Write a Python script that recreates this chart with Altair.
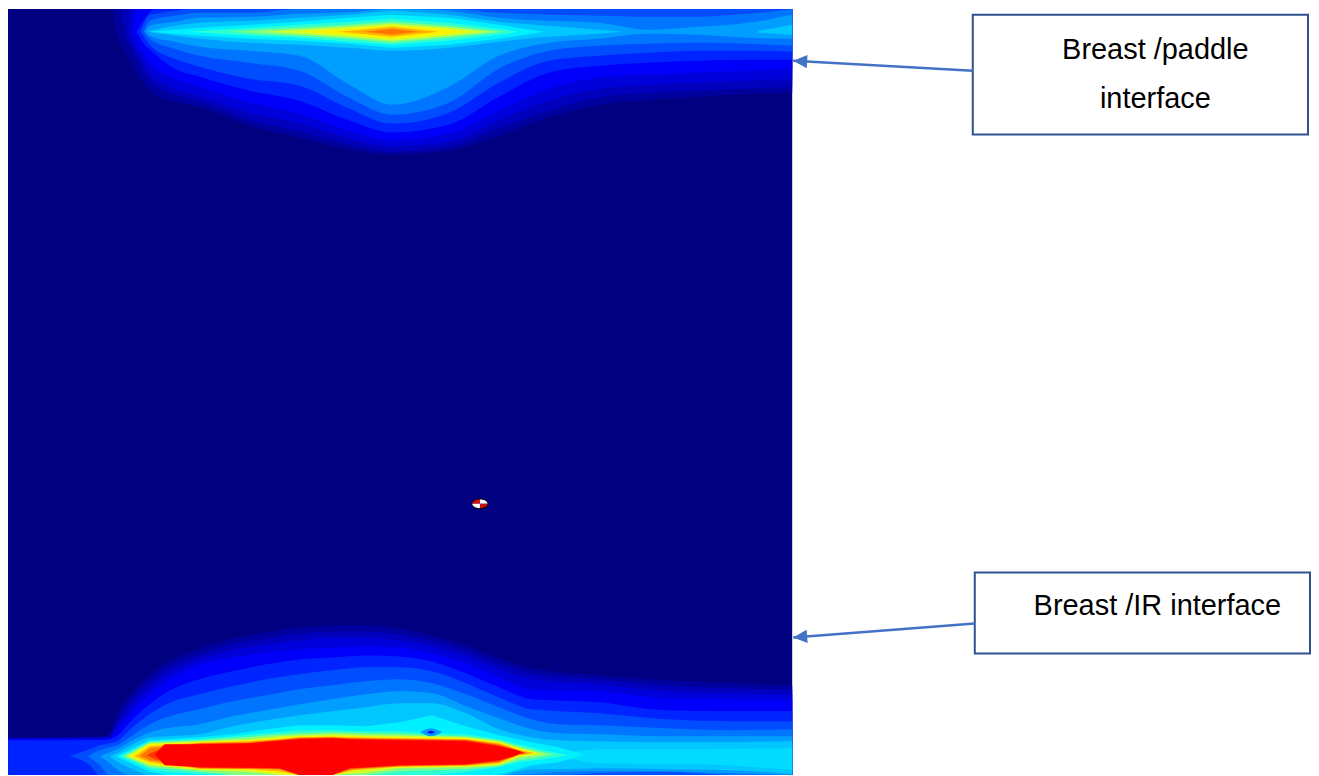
import altair as alt
import pandas as pd

# ---------------------------------------------------------------
# Values, in image-grid units
# (x: lateral position, y: depth, both on the same grid as the
# annotation boxes).  Each contour level is a list of
# (x, upper boundary, lower boundary).
# ---------------------------------------------------------------
FIELD_X = [8, 794]
FIELD_Y = [8, 776]

# ---- upper hot band (breast / paddle interface) ----
TOP_L03 = [(113,8,8),(117,8,31),(125,8,50),(140,8,77),(150,8,90),(175,8,101),(200,8,106),(250,8,125),(300,8,137),(350,8,149),(393,8,154),(450,8,150),(500,8,135),(550,8,117),(600,8,104),(650,8,99),(700,8,96),(750,8,93),(794,8,92)]
TOP_L06 = [(122,8,8),(125,8,30),(132,8,46),(140,8,62),(150,8,80),(175,8,94),(200,8,101),(250,8,119),(300,8,131),(350,8,144),(393,8,151),(450,8,146),(500,8,128),(550,8,110),(600,8,97),(650,8,92),(700,8,90),(750,8,88),(794,8,86)]
TOP_L09 = [(129,30,32),(131,8,38),(140,8,55),(150,8,72),(175,8,88),(200,8,95),(250,8,112),(300,8,123),(350,8,138),(393,8,146),(450,8,141),(500,8,120),(550,8,100),(600,8,88),(650,8,84),(700,8,82),(750,8,80),(794,8,78)]
TOP_L12 = [(133,30,32),(138,8,40),(140,8,45),(150,8,62),(175,8,78),(200,8,86),(250,8,102),(300,8,113),(350,8,130),(393,8,140),(450,8,133),(500,8,110),(550,8,88),(600,8,77),(650,8,74),(700,8,72),(750,8,70),(794,8,68)]
TOP_L16 = [(137,31,31),(145,18,44),(155,8,53),(175,8,68),(200,8,76),(250,8,90),(300,8,100),(350,8,120),(393,8,132),(450,8,124),(500,8,96),(550,8,72),(600,8,65),(650,8,62),(700,8,60),(750,8,59),(794,8,59)]
TOP_L20 = [(141,31,31),(150,14,44),(175,10,58),(190,8,63),(250,8,78),(300,8,85),(350,8,108),(393,8,123),(450,8,112),(500,8,82),(550,8,60),(600,8,55),(650,8,52),(700,8,50),(750,8,50),(794,8,51)]
TOP_L24 = [(144,31,31),(150,20,38),(175,15,48),(200,12,55),(250,12,62),(300,8,70),(350,8,97),(393,8,114),(450,8,102),(500,12,68),(550,14,50),(600,15,45),(650,16,43),(700,16,42),(750,13,43),(794,8,45)]
TOP_L28 = [(146,31,31),(150,25,35),(175,21,41),(200,17,46),(250,16,50),(300,13,55),(350,11,84),(393,8,104),(450,10,86),(500,17,55),(550,20,42),(600,22,38),(650,29,33),(700,26,34),(750,22,37),(794,14,38)]
TOP_L32 = [(148,31,31),(175,25,35),(200,22,38),(250,20,42),(300,17,44),(350,14,47),(393,10,50),(450,14,47),(500,21,41),(550,25,36),(600,29,33),(625,31,31)]
TOP_L32_EDGE = [(760,30,32),(794,24,34)]
TOP_L36 = [(150,31,31),(175,29,33),(200,27,35),(250,24,38),(300,21,40),(350,17,43),(393,14,47),(450,17,44),(500,24,38),(545,31,31)]
TOP_L42 = [(190,31,31),(250,27,35),(300,24,37),(350,21,41),(393,18,44),(450,22,40),(500,28,34),(520,31,31)]
TOP_L50 = [(230,31,31),(260,29,33),(300,27,35),(350,24,38),(393,21,42),(450,25,37),(505,31,31)]
TOP_L58 = [(265,31,31),(300,29,33),(350,26,36),(393,23,40),(450,27,35),(490,31,31)]
TOP_L64 = [(300,31,31),(350,28,34),(393,25,38),(440,28,34),(470,31,31)]
TOP_L70 = [(340,31,31),(393,26,36),(440,31,31)]
TOP_L76 = [(365,31,31),(393,28,34),(420,31,31)]

# ---- lower hot band (breast / IR interface) ----
BOT_L03 = [(8,738,776),(100,737,776),(110,734,776),(117,716,776),(133,693,776),(150,676,776),(167,663,776),(200,649,776),(233,639,776),(267,633,776),(300,628,776),(333,626,776),(367,626,776),(400,629,776),(433,636,776),(467,646,776),(500,659,776),(533,669,776),(600,676,776),(667,681,776),(733,684,776),(794,686,776)]
BOT_L06 = [(8,739,776),(100,738,776),(110,736,776),(117,722,776),(133,699,776),(150,682,776),(167,669,776),(200,655,776),(233,645,776),(267,639,776),(300,634,776),(333,632,776),(367,632,776),(400,635,776),(433,641,776),(467,651,776),(500,664,776),(533,674,776),(600,680,776),(667,686,776),(733,689,776),(794,690,776)]
BOT_L09 = [(8,739.5,776),(100,739,776),(110,738,776),(117,727,776),(133,705,776),(150,688,776),(167,675,776),(200,660,776),(233,651,776),(267,645,776),(300,641,776),(333,638,776),(367,638,776),(400,641,776),(433,647,776),(467,657,776),(500,670,776),(533,680,776),(600,685,776),(667,692,776),(733,694,776),(794,695,776)]
BOT_L12 = [(8,740,776),(100,740,776),(110,739,776),(117,732,776),(133,712,776),(150,695,776),(167,682,776),(200,665,776),(233,658,776),(267,653,776),(300,650,776),(333,648,776),(367,647,776),(400,648,776),(433,654,776),(467,664,776),(500,678,776),(533,690,776),(600,692,776),(667,699,776),(733,700,776),(794,701,776)]
BOT_L16 = [(8,741,776),(100,741,776),(110,740,776),(117,737,776),(133,720,776),(150,705,776),(167,693,776),(200,680,776),(233,672,776),(267,665,776),(300,660,776),(333,658,776),(367,656,776),(400,657,776),(433,662,776),(467,674,776),(500,688,776),(533,700,776),(600,703,776),(667,711,776),(733,712,776),(794,712,776)]
BOT_L20 = [(70,757,757),(90,750,766),(100,746,776),(110,744,776),(117,742,776),(133,728,776),(150,715,776),(167,705,776),(200,695,776),(233,687,776),(267,680,776),(300,675,776),(333,671,776),(367,668,776),(400,668,776),(433,672,776),(467,684,776),(500,698,776),(533,710,776),(600,714,776),(667,720,776),(733,722,776),(794,722,776)]
BOT_L24 = [(88,757,757),(100,751,766),(110,748,776),(117,746,776),(133,736,776),(150,725,776),(167,718,776),(200,710,776),(233,702,776),(267,696,776),(300,690,776),(333,686,776),(367,682,776),(400,680,776),(433,684,776),(467,695,776),(500,708,776),(533,720,776),(560,725,776),(600,726,774),(667,729,773),(733,731,776),(794,730,776)]
BOT_L28 = [(100,757,757),(110,753,764),(117,750,770),(133,741,776),(150,733,776),(167,729,776),(200,725,776),(233,717,776),(267,711,776),(300,705,776),(333,700,776),(367,695,776),(400,692,776),(433,694,776),(467,707,776),(500,719,776),(533,730,775),(560,734,773),(600,735,772),(667,737,772),(733,737,774),(794,737,776)]
BOT_L32 = [(110,757,757),(117,754,762),(133,745,770),(150,738,776),(167,737,776),(200,735,776),(233,727,776),(267,721,776),(300,716,776),(333,712,776),(367,708,776),(400,704,776),(433,704,776),(467,714,776),(500,730,776),(533,738,770),(560,741,770),(600,742,769),(667,743,770),(733,743,771),(794,742,775)]
BOT_L34 = [(560,756,756),(600,750,764),(700,750,765),(794,749,771)]
BOT_L36 = [(116,757,757),(150,741,773),(167,740,776),(200,738,776),(233,735,776),(267,730,776),(300,726,776),(333,726,776),(367,727,776),(400,723,776),(433,716,776),(467,727,776),(500,736,776),(533,743,766),(560,748,763),(585,755,756)]
BOT_L42 = [(120,757,757),(150,742,770),(167,741,773),(200,740,775),(233,737,776),(267,734,776),(300,731,776),(333,731,776),(367,732,776),(400,732,776),(433,734,776),(467,735,773),(500,740,768),(520,745,763),(545,751,760),(570,756,756)]
BOT_L50 = [(124,757,757),(150,743,768),(200,741,773),(233,739,776),(267,736,776),(300,734,776),(333,733,776),(367,734,776),(400,734.5,772),(433,736,771),(467,737,770),(500,741,767),(520,747,761),(535,751,759),(555,755,755)]
BOT_L58 = [(127,757,757),(150,744,766),(200,742,771),(250,740,773),(280,737,776),(300,736,776),(333,735,776),(367,736,774),(400,736.5,769),(433,737,768.5),(467,738,768),(500,742,766),(520,748.5,758),(545,755,755)]
BOT_L64 = [(130,757,757),(150,745,765),(200,743,770),(250,741,771),(275,739,774),(300,737,776),(333,736.5,776),(360,737,771),(400,738,768),(433,738.5,767.5),(467,739,767),(500,743,765),(520,749.5,757),(540,754,754)]
BOT_L70 = [(135,757,757),(150,747,763),(200,743.5,769.5),(250,742,770),(278,740,772),(300,738,776),(333,737.5,776),(355,738,771),(400,739,767.5),(467,740,766.5),(500,744,764),(520,750.5,756),(535,754,754)]
BOT_L76 = [(140,757,757),(150,749,761),(200,744,769),(250,743,769.5),(280,740.5,770),(300,738.5,776),(333,738,776),(352,739,770),(400,739.5,767),(467,740.5,766),(500,745,763),(520,751.5,755.5),(530,754,754)]
BOT_L82 = [(147,756,756),(155,752,760),(200,744.5,768.5),(250,744,769),(280,741,769.5),(300,739,776),(333,738.5,776),(351,739.5,769.5),(400,740,766.5),(467,741,765.5),(500,746,762),(520,752,755),(527,754,754)]
BOT_L88 = [(155,755,755),(165,745,766),(200,745,768),(250,744,768.5),(280,741.5,769),(300,740,776),(333,739,776),(350,740,769),(400,741,766),(467,742,765),(500,747,761),(515,750,757),(524,753,753)]
# small local minimum just above the lower band
BOT_DIP_28 = [(421,733,733),(432,729,737),(443,733,733)]
BOT_DIP_12 = [(428,733,733),(432,731.5,734.5),(436,733,733)]

TOP_LEVELS = [(0.03, TOP_L03), (0.06, TOP_L06), (0.09, TOP_L09), (0.12, TOP_L12),
              (0.16, TOP_L16), (0.20, TOP_L20), (0.24, TOP_L24), (0.28, TOP_L28),
              (0.32, TOP_L32), (0.32, TOP_L32_EDGE), (0.36, TOP_L36), (0.42, TOP_L42),
              (0.50, TOP_L50), (0.58, TOP_L58), (0.64, TOP_L64), (0.70, TOP_L70),
              (0.76, TOP_L76)]
BOT_LEVELS = [(0.03, BOT_L03), (0.06, BOT_L06), (0.09, BOT_L09), (0.12, BOT_L12),
              (0.16, BOT_L16), (0.20, BOT_L20), (0.24, BOT_L24), (0.28, BOT_L28),
              (0.32, BOT_L32), (0.34, BOT_L34), (0.36, BOT_L36), (0.42, BOT_L42),
              (0.50, BOT_L50), (0.58, BOT_L58), (0.64, BOT_L64), (0.70, BOT_L70),
              (0.76, BOT_L76), (0.82, BOT_L82), (0.875, BOT_L88),
              (0.28, BOT_DIP_28), (0.12, BOT_DIP_12)]

# marker (small cross-hair target in the middle of the field)
MARKER_X = [481]
MARKER_Y = [504]

# annotations
BOX_X = [975, 977]
BOX_X2 = [1311, 1313]
BOX_Y = [14, 573]
BOX_Y2 = [134, 654]
LABEL_TEXT = ["Breast /paddle", "interface", "Breast /IR interface"]
LABEL_X = [1158, 1158, 1160]
LABEL_Y = [49, 98, 607]
ARROW_FROM_X = [975, 977]
ARROW_FROM_Y = [70, 624]
ARROW_TIP_X = [795, 795]
ARROW_TIP_Y = [60, 638]
ARROW_ANGLE = [3.2, 355.6]

# ---------------------------------------------------------------
JET_DOMAIN = [0, 0.125, 0.375, 0.625, 0.875, 1.0]
JET_RANGE = ["#000080", "#0000ff", "#00ffff", "#ffff00", "#ff0000", "#800000"]

xs = alt.Scale(domain=[8, 1313], nice=False, zero=False)
ys = alt.Scale(domain=[8, 776], nice=False, zero=False, reverse=True)
cs = alt.Scale(domain=JET_DOMAIN, range=JET_RANGE, interpolate="rgb", clamp=True)

W, H = 1305, 768

base_df = pd.DataFrame({"x": [FIELD_X[0]], "x2": [FIELD_X[1]],
                        "y": [FIELD_Y[0]], "y2": [FIELD_Y[1]], "v": [0.0]})
layers = [
    alt.Chart(base_df).mark_rect().encode(
        x=alt.X("x:Q", scale=xs, axis=None), x2="x2:Q",
        y=alt.Y("y:Q", scale=ys, axis=None), y2="y2:Q",
        color=alt.Color("v:Q", scale=cs, legend=None))
]

for v, pts in TOP_LEVELS + BOT_LEVELS:
    df = pd.DataFrame(pts, columns=["x", "u", "d"])
    df["v"] = v
    interp = "monotone" if v < 0.35 else "linear"
    layers.append(
        alt.Chart(df).mark_area(interpolate=interp, orient="vertical",
                                strokeWidth=0).encode(
            x=alt.X("x:Q", scale=xs, axis=None),
            y=alt.Y("u:Q", scale=ys, axis=None), y2="d:Q",
            color=alt.Color("v:Q", scale=cs, legend=None)))

# marker quadrants
mk = pd.DataFrame({"x": MARKER_X, "y": MARKER_Y})
quads = [("M0,0 L-1,0 A1,0.6 0 0,1 0,-0.6 Z", "#d01010"),
         ("M0,0 L0,-0.6 A1,0.6 0 0,1 1,0 Z", "#ffffff"),
         ("M0,0 L1,0 A1,0.6 0 0,1 0,0.6 Z", "#d01010"),
         ("M0,0 L0,0.6 A1,0.6 0 0,1 -1,0 Z", "#ffffff")]
for path, col in quads:
    layers.append(alt.Chart(mk).mark_point(shape=path, filled=True, fill=col,
                                           size=260, opacity=1, strokeWidth=0).encode(
        x=alt.X("x:Q", scale=xs, axis=None), y=alt.Y("y:Q", scale=ys, axis=None)))
layers.append(alt.Chart(mk).mark_point(shape="M-1,0 A1,0.6 0 1,1 1,0 A1,0.6 0 1,1 -1,0 Z",
                                       filled=False, stroke="#000000", strokeWidth=1,
                                       size=260, opacity=1).encode(
    x=alt.X("x:Q", scale=xs, axis=None), y=alt.Y("y:Q", scale=ys, axis=None)))

# annotation boxes
box_df = pd.DataFrame({"x": BOX_X, "x2": BOX_X2, "y": BOX_Y, "y2": BOX_Y2})
layers.append(alt.Chart(box_df).mark_rect(fill="white", stroke="#2F528F",
                                          strokeWidth=2).encode(
    x=alt.X("x:Q", scale=xs, axis=None), x2="x2:Q",
    y=alt.Y("y:Q", scale=ys, axis=None), y2="y2:Q"))

lab_df = pd.DataFrame({"t": LABEL_TEXT, "x": LABEL_X, "y": LABEL_Y})
layers.append(alt.Chart(lab_df).mark_text(font="Liberation Sans", fontSize=29,
                                          color="#000000", align="center",
                                          baseline="middle").encode(
    x=alt.X("x:Q", scale=xs, axis=None), y=alt.Y("y:Q", scale=ys, axis=None),
    text="t:N"))

arr_df = pd.DataFrame({"x": ARROW_FROM_X, "y": ARROW_FROM_Y,
                       "x2": ARROW_TIP_X, "y2": ARROW_TIP_Y, "a": ARROW_ANGLE})
layers.append(alt.Chart(arr_df).mark_rule(color="#4472C4", strokeWidth=2.5).encode(
    x=alt.X("x:Q", scale=xs, axis=None), x2="x2:Q",
    y=alt.Y("y:Q", scale=ys, axis=None), y2="y2:Q"))
for i in range(len(ARROW_TIP_X)):
    hd = pd.DataFrame({"x": [ARROW_TIP_X[i]], "y": [ARROW_TIP_Y[i]]})
    layers.append(alt.Chart(hd).mark_point(shape="M0,0 L2,-0.95 L2,0.95 Z",
                                           filled=True, fill="#4472C4", opacity=1,
                                           size=196, strokeWidth=0,
                                           angle=ARROW_ANGLE[i]).encode(
        x=alt.X("x:Q", scale=xs, axis=None), y=alt.Y("y:Q", scale=ys, axis=None)))

chart = alt.layer(*layers).properties(
    width=W, height=H, padding=0, background="white"
).configure_view(stroke=None)

chart.save("out.html", embed_options={"renderer": "svg", "actions": False})
